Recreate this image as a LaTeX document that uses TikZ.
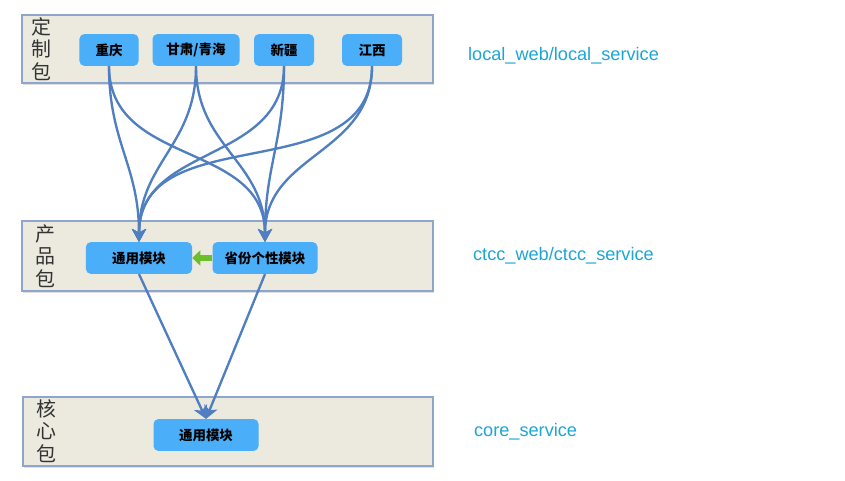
\documentclass[tikz,border=0pt]{standalone}
\usepackage{fontspec}
\setmainfont{Liberation Sans}
\newfontfamily\cjk{Noto Sans CJK SC}
\usetikzlibrary{arrows.meta,shadows}

\definecolor{layerfill}{HTML}{ECE9DF}
\definecolor{layerline}{HTML}{8EA6CC}
\definecolor{modfill}{HTML}{4AAEF9}
\definecolor{flowblue}{HTML}{4F7FC0}
\definecolor{depgreen}{HTML}{6DBE2C}
\definecolor{pathcyan}{HTML}{1BA6D6}

\tikzset{
  layer/.style={draw=layerline, line width=0.9pt, fill=layerfill,
    drop shadow={shadow xshift=1.2pt, shadow yshift=-1.5pt, opacity=0.25}},
  layertag/.style={font=\cjk\fontsize{17}{19}\selectfont, align=center, text=black!80},
  module/.style={fill=modfill, rounded corners=4pt, inner sep=0pt,
    minimum height=0.95cm, font=\cjk\bfseries\fontsize{11.5}{13}\selectfont},
  flow/.style={draw=flowblue, line width=2pt,
    -{Stealth[length=11pt,width=12pt,inset=3pt]}},
  dep/.style={draw=depgreen, line width=4.5pt, -{Triangle[length=7pt,width=13pt]}},
  pathtag/.style={text=pathcyan, font=\fontsize{15.5}{18}\selectfont, anchor=west}
}

\begin{document}
\begin{tikzpicture}[x=0.03cm,y=-0.03cm]
  \useasboundingbox (0,0) rectangle (845,481);

  % Layers
  \path[layer] (22,15) rectangle (433,83);
  \path[layer] (22,221) rectangle (433,291);
  \path[layer] (23,397) rectangle (433,466);

  % Layer tags
  \node[layertag] (tagcustom) at (41,49) {定\\制\\包};
  \node[layertag] (tagproduct) at (45,256) {产\\品\\包};
  \node[layertag] (tagcore) at (46,431) {核\\心\\包};

  % Custom modules
  \node[module, minimum width=1.77cm] (cq) at (109,50) {重庆};
  \node[module, minimum width=2.61cm] (gs) at (196,50) {甘肃/青海};
  \node[module, minimum width=1.80cm] (xj) at (284,50) {新疆};
  \node[module, minimum width=1.80cm] (jx) at (372,50) {江西};

  % Product modules
  \node[module, minimum width=3.18cm] (common) at (139,258) {通用模块};
  \node[module, minimum width=3.15cm] (province) at (265,258) {省份个性模块};

  % Core module
  \node[module, minimum width=3.15cm] (core) at (206,435) {通用模块};

  % Dependencies
  \foreach \src in {cq,gs,xj,jx} {
    \draw[flow] (\src.south) to[out=-90,in=90,looseness=1.1] (common.north);
    \draw[flow] (\src.south) to[out=-90,in=90,looseness=1.1] (province.north);
  }
  \draw[dep] (province.west) -- (common.east);
  \draw[flow] (common.south) -- (core.north);
  \draw[flow] (province.south) -- (core.north);

  % Paths
  \node[pathtag] (pathcustom) at (464,56) {local\_web/local\_service};
  \node[pathtag] (pathproduct) at (469,256) {ctcc\_web/ctcc\_service};
  \node[pathtag] (pathcore) at (470,432) {core\_service};
\end{tikzpicture}
\end{document}
